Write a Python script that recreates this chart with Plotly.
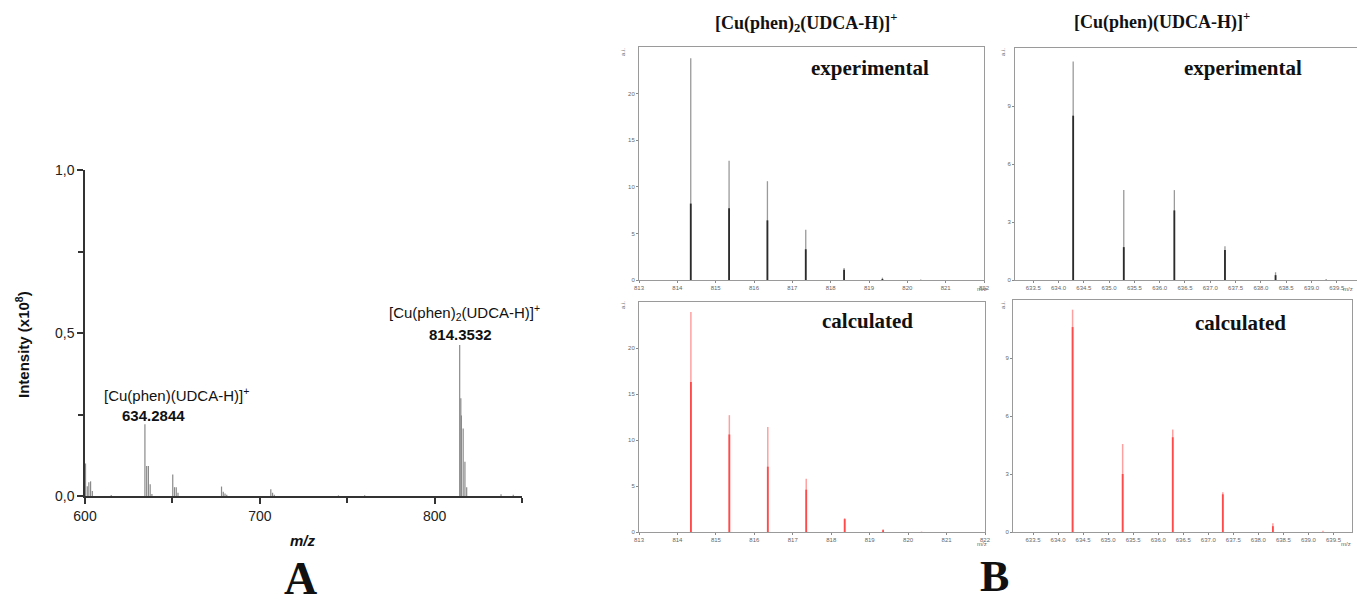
import plotly.graph_objects as go

W, H = 1357, 605

# ---------------- Panel A data (full MS spectrum) ----------------
a_mz = [600.3, 601.3, 602.2, 603.2, 604.2, 615.0, 634.28, 635.28, 636.28, 637.28, 638.28,
        650.2, 651.2, 652.2, 653.2, 678.1, 679.1, 680.1, 681.1, 706.3, 707.3, 708.3,
        745.0, 760.0, 814.35, 815.0, 815.35, 816.35, 817.35, 818.35, 838.0, 845.0]
a_int = [0.100, 0.030, 0.042, 0.045, 0.015, 0.003, 0.220, 0.092, 0.092, 0.036, 0.006,
         0.066, 0.027, 0.027, 0.010, 0.029, 0.013, 0.008, 0.004, 0.021, 0.010, 0.004,
         0.002, 0.002, 0.463, 0.300, 0.247, 0.207, 0.105, 0.027, 0.005, 0.004]
a_yticks = [0.0, 0.5, 1.0]
a_yticklabels = ["0,0", "0,5", "1,0"]
a_xticks = [600, 700, 800]

# ---------------- Panel B data (isotope patterns) ----------------
b1_mz = [814.35, 815.35, 816.35, 817.35, 818.35, 819.35, 820.35]
b1_exp_outer = [23.8, 12.8, 10.6, 5.4, 1.3, 0.25, 0.05]
b1_exp_inner = [8.2, 7.7, 6.4, 3.3, 1.1, 0.1, 0.0]
b1_calc_outer = [23.9, 12.7, 11.4, 5.8, 1.5, 0.3, 0.05]
b1_calc_inner = [16.3, 10.6, 7.1, 4.6, 1.4, 0.2, 0.0]

b2_mz = [634.29, 635.29, 636.29, 637.29, 638.29, 639.29]
b2_exp_outer = [11.3, 4.65, 4.65, 1.75, 0.40, 0.05]
b2_exp_inner = [8.5, 1.7, 3.6, 1.55, 0.25, 0.0]
b2_calc_outer = [11.5, 4.55, 5.3, 2.05, 0.45, 0.07]
b2_calc_inner = [10.6, 3.0, 4.9, 1.95, 0.30, 0.0]

b1_xticks = [813, 814, 815, 816, 817, 818, 819, 820, 821, 822]
b1_yticks = [0, 5, 10, 15, 20]
b2_xticks = [633.5, 634.0, 634.5, 635.0, 635.5, 636.0, 636.5, 637.0, 637.5, 638.0, 638.5, 639.0, 639.5]
b2_yticks = [0, 3, 6, 9]


def px(x):
    return x / W


def py(y):
    return 1 - y / H


def sticks(xs, ys):
    xx, yy = [], []
    for x, y in zip(xs, ys):
        xx += [x, x, None]
        yy += [0, y, None]
    return xx, yy


fig = go.Figure()


def add_sticks(xs, ys, color, width, ax):
    sx, sy = sticks(xs, ys)
    fig.add_trace(go.Scatter(x=sx, y=sy, mode="lines", line=dict(color=color, width=width),
                             xaxis="x" + ax, yaxis="y" + ax, showlegend=False, hoverinfo="skip"))


# Panel A
add_sticks(a_mz, a_int, "#8a8a8a", 1.2, "")

# Panel B
add_sticks(b1_mz, b1_exp_outer, "#9a9a9a", 1.3, "2")
add_sticks(b1_mz, b1_exp_inner, "#2b2b2b", 1.8, "2")
add_sticks(b2_mz, b2_exp_outer, "#9a9a9a", 1.3, "3")
add_sticks(b2_mz, b2_exp_inner, "#2b2b2b", 1.8, "3")
add_sticks(b1_mz, b1_calc_outer, "#ffa0a0", 1.5, "4")
add_sticks(b1_mz, b1_calc_inner, "#ff4a4a", 1.8, "4")
add_sticks(b2_mz, b2_calc_outer, "#ffa0a0", 1.5, "5")
add_sticks(b2_mz, b2_calc_inner, "#ff4a4a", 1.8, "5")

axA = dict(showline=True, linecolor="#333", linewidth=1.5, ticks="outside", ticklen=6,
           tickwidth=1.5, tickcolor="#333", showgrid=False, zeroline=False, automargin=False,
           tickfont=dict(family="Liberation Sans, Arial", size=14, color="#222"))

layout = dict(
    width=W, height=H, margin=dict(l=0, r=0, t=0, b=0, pad=0, autoexpand=False),
    plot_bgcolor="white", paper_bgcolor="white", showlegend=False,
    xaxis=dict(axA, domain=[px(85), px(522)], range=[600, 850], tickmode="array",
               tickvals=a_xticks, anchor="y",
               minor=dict(tickmode="linear", tick0=600, dtick=50, ticks="outside", ticklen=5,
                          tickwidth=1.5, tickcolor="#333")),
    yaxis=dict(axA, domain=[py(496), py(170)], range=[0, 1.0], tickmode="array",
               tickvals=a_yticks, ticktext=a_yticklabels, anchor="x",
               minor=dict(tickmode="linear", tick0=0, dtick=0.25, ticks="outside", ticklen=5,
                          tickwidth=1.5, tickcolor="#333")),
)

axB = dict(showline=True, mirror=True, linecolor="#9a9a9a", linewidth=1, ticks="outside",
           ticklen=2, tickwidth=1, tickcolor="#888", showgrid=False, zeroline=False,
           automargin=False,
           tickfont=dict(family="Liberation Sans, Arial", size=6, color="#666"))

# (name, x-domain px, y-domain px, x-range, y-range, xticks, yticks, xfmt)
b_axes = [
    ("2", (639, 984), (280, 47), [813, 822], [0, 25], b1_xticks, b1_yticks, "d"),
    ("3", (1015, 1357), (280, 48), [633.14, 639.9], [0, 12], b2_xticks, b2_yticks, ".1f"),
    ("4", (639, 985), (532, 302), [813, 822], [0, 25], b1_xticks, b1_yticks, "d"),
    ("5", (1013, 1352), (532, 300), [633.1, 639.87], [0, 12], b2_xticks, b2_yticks, ".1f"),
]
for name, (x0, x1), (yb, yt), xr, yr, xt, yt_, fmt in b_axes:
    layout["xaxis" + name] = dict(axB, domain=[px(x0), px(x1)], range=xr, tickmode="array",
                                  tickvals=xt, tickformat=fmt, anchor="y" + name)
    layout["yaxis" + name] = dict(axB, domain=[py(yb), py(yt)], range=yr, tickmode="array",
                                  tickvals=yt_, anchor="x" + name)

fig.update_layout(**layout)

ann = []


def text(x, y, s, size, family="Liberation Sans, Arial", color="#111", angle=0, xanchor="center"):
    ann.append(dict(x=px(x), y=py(y), xref="paper", yref="paper", text=s, showarrow=False,
                    font=dict(family=family, size=size, color=color), textangle=angle,
                    xanchor=xanchor, yanchor="middle"))


# Panel A labels
text(176, 394, "[Cu(phen)(UDCA-H)]<sup>+</sup>", 15)
text(153, 415, "<b>634.2844</b>", 15)
text(464, 312, "[Cu(phen)<sub>2</sub>(UDCA-H)]<sup>+</sup>", 15)
text(460, 334, "<b>814.3532</b>", 15)
text(22, 345, "<b>Intensity (x10<sup>8</sup>)</b>", 15, angle=-90)
text(303, 540, "<b><i>m/z</i></b>", 15)
text(300, 578, "<b>A</b>", 46, family="Liberation Serif, Times New Roman")

# Panel B labels
serif = "Liberation Serif, Times New Roman"
text(806, 23, "<b>[Cu(phen)<sub>2</sub>(UDCA-H)]<sup>+</sup></b>", 18, family=serif)
text(1162, 21, "<b>[Cu(phen)(UDCA-H)]<sup>+</sup></b>", 18, family=serif)
text(870, 68, "<b>experimental</b>", 21, family=serif)
text(1243, 68, "<b>experimental</b>", 21, family=serif)
text(868, 321, "<b>calculated</b>", 21, family=serif)
text(1240, 323, "<b>calculated</b>", 21, family=serif)
text(994, 576, "<b>B</b>", 44, family=serif)

for (x, y) in [(623, 52), (1003, 52), (623, 305), (1003, 305)]:
    text(x, y, "a.i.", 6, color="#666", angle=-90)
for (x, y) in [(982, 289), (1348, 289), (982, 544), (1346, 544)]:
    text(x, y, "m/z", 6, color="#666")

fig.update_layout(annotations=ann)
fig.write_html("out.html", config={"displayModeBar": False},
               post_script="document.body.style.margin='0';document.body.style.overflow='hidden';")
